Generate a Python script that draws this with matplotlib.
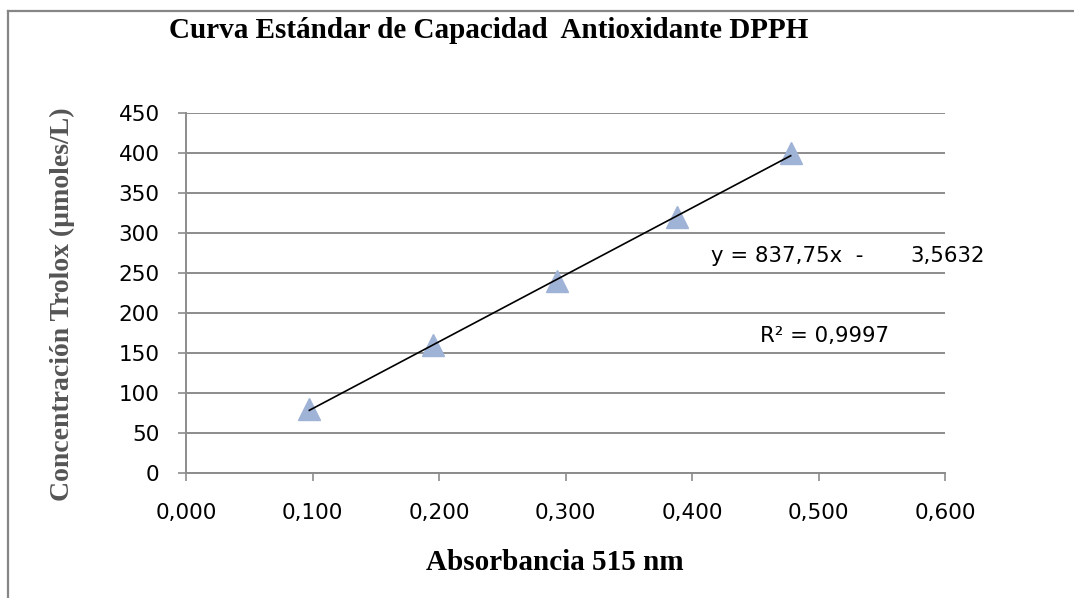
import matplotlib
matplotlib.use("Agg")
import matplotlib.pyplot as plt
from matplotlib.lines import Line2D

# Data
absorbance = [0.0975, 0.195, 0.293, 0.388, 0.478]
trolox = [80, 160, 240, 320, 400]
slope = 837.75
intercept = -3.5632
x_ticks = [0.0, 0.1, 0.2, 0.3, 0.4, 0.5, 0.6]
x_tick_labels = ["0,000", "0,100", "0,200", "0,300", "0,400", "0,500", "0,600"]
y_ticks = [0, 50, 100, 150, 200, 250, 300, 350, 400, 450]
y_tick_labels = [str(v) for v in y_ticks]

W, H = 1074, 598
fig = plt.figure(figsize=(W / 100, H / 100), dpi=100)
fig.patch.set_facecolor("white")

# outer chart frame (top and left visible)
fig.add_artist(Line2D([8 / W, 8 / W], [0, 1 - 11 / H], transform=fig.transFigure,
                      color="#868686", lw=1.6))
fig.add_artist(Line2D([8 / W, 1], [1 - 11 / H, 1 - 11 / H], transform=fig.transFigure,
                      color="#868686", lw=1.6))

left, right = 186 / W, 945 / W
bottom, top = 1 - 472.7 / H, 1 - 113.3 / H
ax = fig.add_axes([left, bottom, right - left, top - bottom])
ax.set_xlim(0, 0.6)
ax.set_ylim(0, 450)

grid_col = "#8c8c8c"
for s in ["top", "right"]:
    ax.spines[s].set_visible(False)
for s in ["left", "bottom"]:
    ax.spines[s].set_color(grid_col)
    ax.spines[s].set_linewidth(1.4)

ax.set_yticks(y_ticks)
ax.set_yticklabels(y_tick_labels)
ax.set_xticks(x_ticks)
ax.set_xticklabels(x_tick_labels)
ax.yaxis.grid(True, color=grid_col, lw=1.4)
ax.set_axisbelow(True)

tick_family = "DejaVu Sans"
tick_size = 15.5
ax.tick_params(axis="both", direction="out", color=grid_col, width=1.2, length=6)
ax.tick_params(axis="y", pad=13)
ax.tick_params(axis="x", pad=16)
for lab in ax.get_xticklabels() + ax.get_yticklabels():
    lab.set_fontfamily(tick_family)
    lab.set_fontsize(tick_size)
    lab.set_color("black")

# trendline
xs = [min(absorbance), max(absorbance)]
ys = [slope * x + intercept for x in xs]
ax.plot(xs, ys, color="black", lw=1.2, zorder=4)

# points
ax.plot(absorbance, trolox, linestyle="none", marker="^", markersize=15.5,
        markerfacecolor="#9fb3d6", markeredgecolor="#9fb3d6", zorder=3)

# equation and R^2
ax.text(0.415, 271.3, "y = 837,75x  -", ha="left", va="center",
        fontfamily=tick_family, fontsize=15.3)
ax.text(0.5725, 271.3, "3,5632", ha="left", va="center",
        fontfamily=tick_family, fontsize=15.3)
ax.text(0.4538, 171.2, "R² = 0,9997", ha="left", va="center",
        fontfamily=tick_family, fontsize=15.3)

# titles
fig.text(489 / W, 1 - 30 / H, "Curva Estándar de Capacidad  Antioxidante DPPH",
         ha="center", va="center", fontfamily="Liberation Serif",
         fontweight="bold", fontsize=21)
fig.text(555 / W, 1 - 563 / H, "Absorbancia 515 nm", ha="center", va="center",
         fontfamily="Liberation Serif", fontweight="bold", fontsize=21)
fig.text(62 / W, 1 - 304 / H, "Concentración Trolox (µmoles/L)", ha="center",
         va="center", rotation=90, fontfamily="Liberation Serif",
         fontweight="bold", fontsize=20, color="#555555")

fig.savefig("out.png", dpi=100, facecolor="white")
